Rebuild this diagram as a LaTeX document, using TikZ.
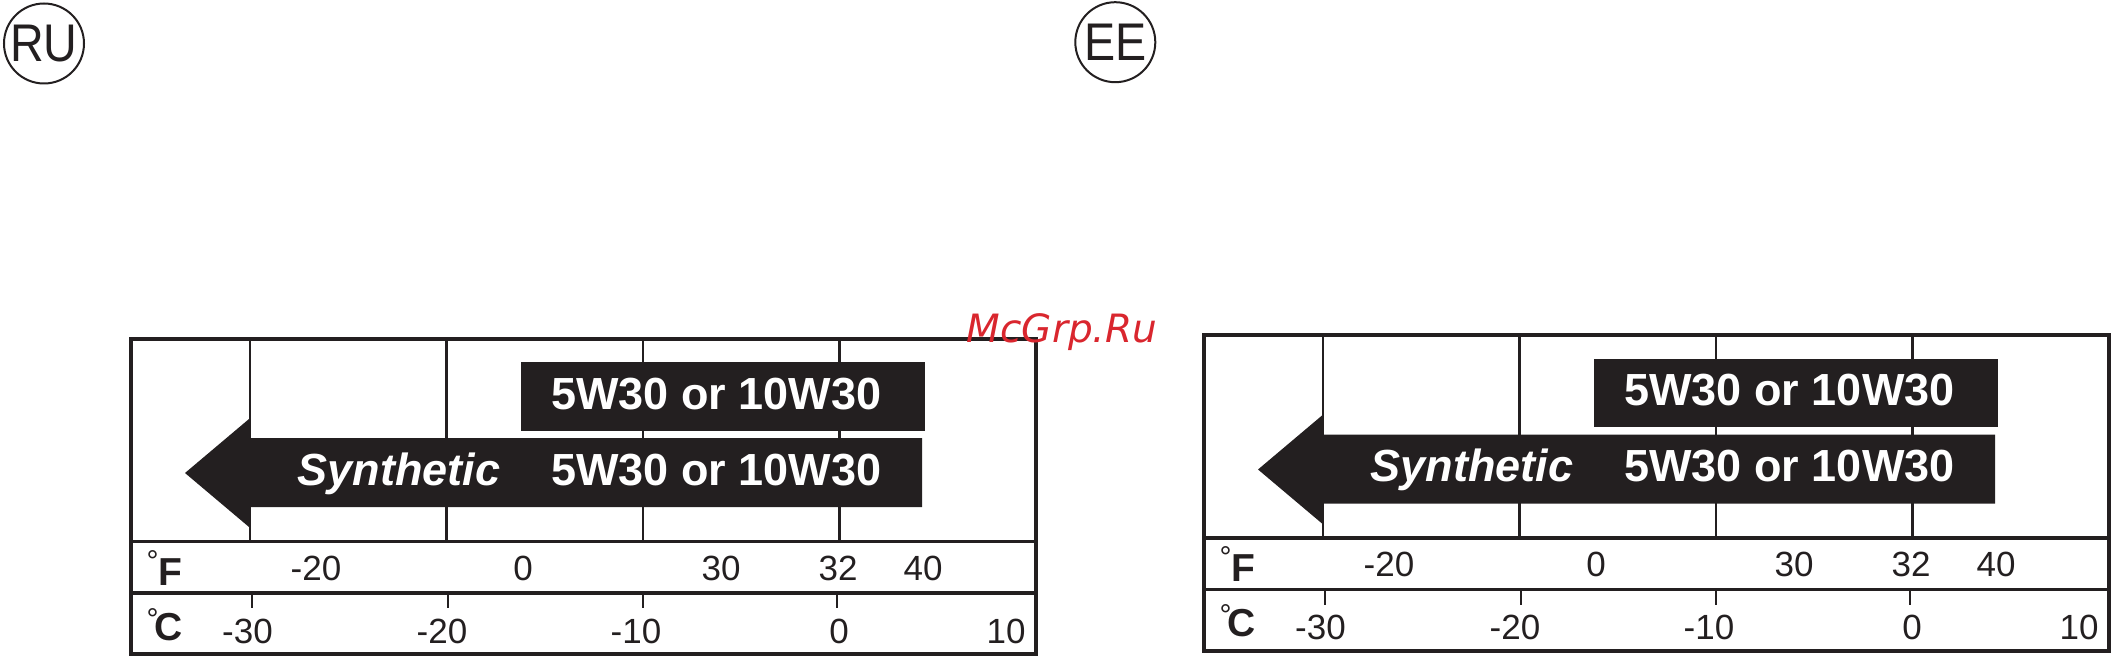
\documentclass[tikz,border=0pt]{standalone}
\usepackage{fontspec}
\setmainfont{Liberation Sans}
\newfontfamily\wmfont{DejaVu Sans}
\usepackage{tikz}

\definecolor{ink}{HTML}{231F20}
\definecolor{wmred}{HTML}{D9262E}

\begin{document}
\begin{tikzpicture}[x=0.5pt, y=-0.5pt]

\tikzset{
  frame/.style    = {line width=2pt, draw=ink},
  sep/.style      = {line width=1.6pt, draw=ink},
  grid/.style     = {line width=1.2pt, draw=ink},
  tickln/.style   = {line width=1.3pt, draw=ink},
  band/.style     = {fill=ink},
  oil/.style      = {anchor=base, inner sep=0pt, text=white,
                     font=\fontsize{22.5}{26}\selectfont\bfseries},
  synth/.style    = {oil, font=\fontsize{22.5}{26}\selectfont\bfseries\itshape},
  temp/.style     = {anchor=base, inner sep=0pt, text=ink,
                     font=\fontsize{17.5}{20}\selectfont},
  unitlbl/.style  = {anchor=base, inner sep=0pt, text=ink,
                     font=\fontsize{19.5}{22}\selectfont\bfseries},
  degs/.style     = {anchor=north, inner sep=0pt, text=ink,
                     font=\fontsize{15}{15}\selectfont},
  region/.style   = {circle, draw=ink, line width=1pt, minimum size=40pt,
                     inner sep=0pt, text=ink, font=\fontsize{26.5}{30}\selectfont},
  wmark/.style    = {anchor=base, inner sep=0pt, text=wmred,
                     font=\fontsize{19.5}{22}\selectfont\wmfont\itshape}
}

\useasboundingbox (0,0) rectangle (2112,657);

%% -- Region badges ------------------------------------------------
\node[region] (ru) at (44,43.5)    {\scalebox{0.88}[1]{RU}};
\node[region] (ee) at (1115.3,42.2) {\scalebox{0.88}[1]{EE}};

%% == Left chart (RU) ==============================================

%% -- Grid lines and ticks -----------------------------------------
\draw[grid] (250,339)   -- (250,541.5);
\draw[grid] (446.5,339) -- (446.5,541.5);
\draw[grid] (643,339)   -- (643,541.5);
\draw[grid] (839.5,339) -- (839.5,541.5);
\draw[tickln] (252,593) -- (252,608);
\draw[tickln] (448,593) -- (448,608);
\draw[tickln] (643,593) -- (643,608);
\draw[tickln] (837,593) -- (837,608);

%% -- Oil bands ----------------------------------------------------
\fill[band] (520.5,362) rectangle (925,430.5);
\fill[band] (922,438) -- (249,438) -- (249,419) -- (185,473)
            -- (249,527) -- (249,507) -- (922,507) -- cycle;

%% -- Frame and row separators -------------------------------------
\draw[sep]   (131,541.5) -- (1036,541.5);
\draw[sep]   (131,593)   -- (1036,593);
\draw[frame] (131,339) rectangle (1036,654);

%% -- Band labels --------------------------------------------------
\node[oil]   (mix)   at (716.5,409) {5W30 or 10W30};
\node[synth] (syn)   at (399,485)   {Synthetic};
\node[oil]   (mixS)  at (716.5,485) {5W30 or 10W30};

%% -- Fahrenheit row -----------------------------------------------
\node[degs]    (degF)  at (152.5,550) {°};
\node[unitlbl] (unitF) at (170.5,585) {F};
\node[temp] (fA) at (316,580) {-20};
\node[temp] (fB) at (523,580) {0};
\node[temp] (fC) at (721,580) {30};
\node[temp] (fD) at (838,580) {32};
\node[temp] (fE) at (923,580) {40};

%% -- Celsius row --------------------------------------------------
\node[degs]    (degC)  at (152.5,607.7) {°};
\node[unitlbl] (unitC) at (168.4,640)   {C};
\node[temp] (cA) at (247.5,643) {-30};
\node[temp] (cB) at (442,643)   {-20};
\node[temp] (cC) at (636,643)   {-10};
\node[temp] (cD) at (839,643)   {0};
\node[temp] (cE) at (1006,643)  {10};

%% == Right chart (EE) =============================================

%% -- Grid lines and ticks -----------------------------------------
\draw[grid] (1323,335.5)   -- (1323,538);
\draw[grid] (1519.5,335.5) -- (1519.5,538);
\draw[grid] (1716,335.5)   -- (1716,538);
\draw[grid] (1912.5,335.5) -- (1912.5,538);
\draw[tickln] (1325,589.5) -- (1325,604.5);
\draw[tickln] (1521,589.5) -- (1521,604.5);
\draw[tickln] (1716,589.5) -- (1716,604.5);
\draw[tickln] (1910,589.5) -- (1910,604.5);

%% -- Oil bands ----------------------------------------------------
\fill[band] (1593.5,358.5) rectangle (1998,427);
\fill[band] (1995,434.5) -- (1322,434.5) -- (1322,415.5) -- (1258,469.5)
            -- (1322,523.5) -- (1322,503.5) -- (1995,503.5) -- cycle;

%% -- Frame and row separators -------------------------------------
\draw[sep]   (1204,538)   -- (2109,538);
\draw[sep]   (1204,589.5) -- (2109,589.5);
\draw[frame] (1204,335.5) rectangle (2109,650.5);

%% -- Band labels --------------------------------------------------
\node[oil]   (mixR)  at (1789.5,405.5) {5W30 or 10W30};
\node[synth] (synR)  at (1472,481.5)   {Synthetic};
\node[oil]   (mixSR) at (1789.5,481.5) {5W30 or 10W30};

%% -- Fahrenheit row -----------------------------------------------
\node[degs]    (degFR)  at (1225.5,546.5) {°};
\node[unitlbl] (unitFR) at (1243.5,581.5) {F};
\node[temp] (fAR) at (1389,576.5) {-20};
\node[temp] (fBR) at (1596,576.5) {0};
\node[temp] (fCR) at (1794,576.5) {30};
\node[temp] (fDR) at (1911,576.5) {32};
\node[temp] (fER) at (1996,576.5) {40};

%% -- Celsius row --------------------------------------------------
\node[degs]    (degCR)  at (1225.5,604.2) {°};
\node[unitlbl] (unitCR) at (1241.4,636.5) {C};
\node[temp] (cAR) at (1320.5,639.5) {-30};
\node[temp] (cBR) at (1515,639.5)   {-20};
\node[temp] (cCR) at (1709,639.5)   {-10};
\node[temp] (cDR) at (1912,639.5)   {0};
\node[temp] (cER) at (2079,639.5)   {10};

%% -- Watermark ----------------------------------------------------
\node[wmark] (wm) at (1062,343) {McGrp.Ru};

\end{tikzpicture}
\end{document}
